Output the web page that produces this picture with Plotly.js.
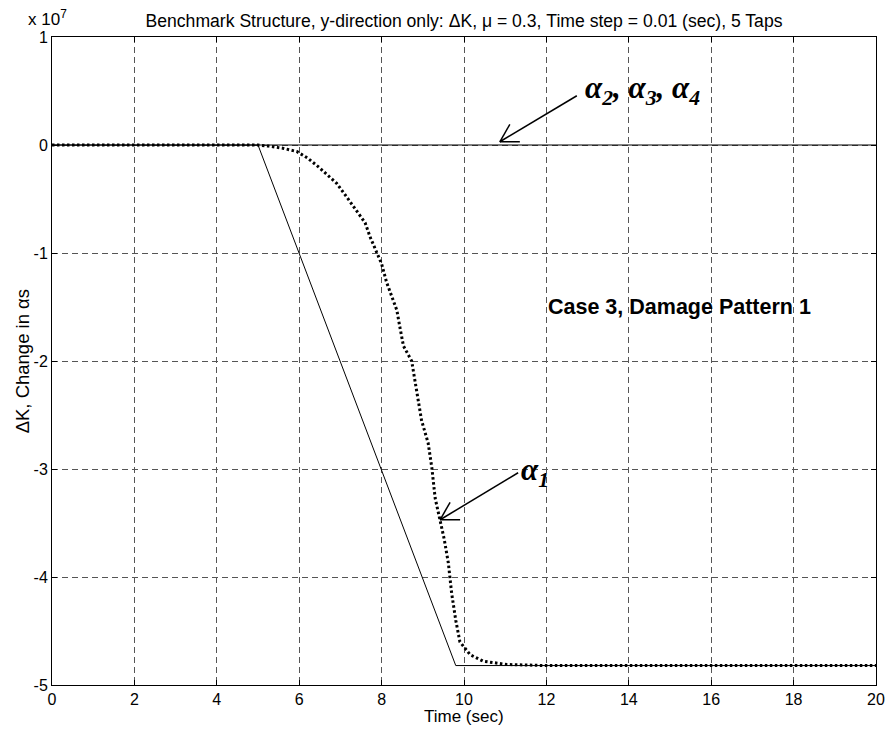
<!DOCTYPE html>
<html>
<head>
<meta charset="utf-8">
<script src="https://cdn.plot.ly/plotly-3.0.1.min.js"></script>
<style>
html,body{margin:0;padding:0;background:#fff;}
#chart{width:887px;height:729px;}
</style>
</head>
<body>
<div id="chart"></div>
<script>
// Values in units of 1e7 (axis is scaled "x 10^7")
const timeTrue = [0, 5, 9.8, 20];
const alpha1True = [0, 0, -4.82, -4.82];
const timeZero = [0, 20];
const alpha234True = [0, 0];
const timeEst = [0, 5.0, 5.25, 5.6, 5.94, 6.2, 6.46, 6.7, 6.91, 7.15, 7.44, 7.6, 7.72, 7.88, 8.0, 8.12, 8.28, 8.37, 8.45, 8.53, 8.73, 8.85, 8.97, 9.13, 9.22, 9.30, 9.42, 9.52, 9.62, 9.70, 9.80, 9.90, 10.15, 10.47, 11.04, 12, 20];
const alpha1Est = [0, 0, -0.01, -0.03, -0.06, -0.12, -0.2, -0.28, -0.355, -0.48, -0.63, -0.72, -0.85, -1.0, -1.1, -1.27, -1.44, -1.53, -1.7, -1.86, -2.0, -2.27, -2.55, -2.76, -2.99, -3.27, -3.47, -3.65, -3.87, -4.15, -4.4, -4.6, -4.72, -4.78, -4.81, -4.82, -4.82];
const xTicks = [0, 2, 4, 6, 8, 10, 12, 14, 16, 18, 20];
const yTicks = [1, 0, -1, -2, -3, -4, -5];

const sans = 'Liberation Sans, Arial, sans-serif';
const serif = 'Liberation Serif, Times New Roman, serif';

const traces = [
  {x: timeZero, y: alpha234True, mode: 'lines', line: {color: '#000', width: 1}, hoverinfo: 'skip'},
  {x: timeTrue, y: alpha1True, mode: 'lines', line: {color: '#000', width: 1}, hoverinfo: 'skip'},
  {x: timeEst, y: alpha1Est, mode: 'lines', line: {color: '#000', width: 3, dash: '2.5px,2.5px'}, hoverinfo: 'skip'}
];

function arrowShapes(x, y, tx, ty) {
  const seg = (x1, y1) => ({type: 'line', xref: 'x', yref: 'y', xsizemode: 'pixel', ysizemode: 'pixel',
    xanchor: x, yanchor: y, x0: 0, y0: 0, x1: x1, y1: y1, line: {color: '#000', width: 1.5}});
  return [seg(tx, ty), seg(20, 0), seg(10, 17.5)];
}

const shapes = [
  ...arrowShapes(10.87, 0.03, 77, 46),
  ...arrowShapes(9.42, -3.47, 78, 47)
];

const annotations = [
  {xref: 'paper', yref: 'paper', x: 0.644, y: 0.918, xanchor: 'left', yanchor: 'middle', showarrow: false,
   text: '<b><i>α<sub>2</sub>, α<sub>3</sub>, α<sub>4</sub></i></b>', font: {family: serif, size: 31, color: '#000'}},
  {xref: 'paper', yref: 'paper', x: 0.567, y: 0.329, xanchor: 'left', yanchor: 'middle', showarrow: false,
   text: '<b><i>α<sub>1</sub></i></b>', font: {family: serif, size: 31, color: '#000'}},
  {xref: 'paper', yref: 'paper', x: 0.761, y: 0.583, xanchor: 'center', yanchor: 'middle', showarrow: false,
   text: '<b>Case 3, Damage Pattern 1</b>', font: {family: sans, size: 21.5, color: '#000'}},
  {xref: 'paper', yref: 'paper', x: -0.031, y: 1.029, xanchor: 'left', yanchor: 'middle', showarrow: false,
   text: 'x 10<sup>7</sup>', font: {family: sans, size: 17, color: '#000'}},
  {xref: 'paper', yref: 'paper', x: -0.036, y: 0.5, xanchor: 'center', yanchor: 'middle', showarrow: false, textangle: -90,
   text: 'ΔK, Change in αs', font: {family: sans, size: 18.5, color: '#000'}},
  {xref: 'paper', yref: 'paper', x: 0.5, y: -0.0485, xanchor: 'center', yanchor: 'middle', showarrow: false,
   text: 'Time (sec)', font: {family: sans, size: 17, color: '#000'}}
];

const layout = {
  width: 887, height: 729,
  margin: {l: 52, r: 11, t: 37, b: 44},
  paper_bgcolor: '#fff', plot_bgcolor: '#fff',
  showlegend: false,
  title: {text: 'Benchmark Structure, y-direction only: ΔK, μ = 0.3, Time step = 0.01 (sec), 5 Taps',
          x: 0.5, xref: 'paper', xanchor: 'center', y: 0.971, yref: 'container', yanchor: 'middle',
          font: {family: sans, size: 17.6, color: '#000'}},
  xaxis: {range: [0, 20], tickvals: xTicks, ticktext: xTicks.map(String), ticks: 'inside', ticklen: 5, tickcolor: '#000',
          showline: true, linecolor: '#000', linewidth: 1, mirror: 'ticks', zeroline: false,
          showgrid: true, gridcolor: '#555', gridwidth: 1, griddash: '6px,4px',
          tickfont: {family: sans, size: 16, color: '#000'}, fixedrange: true},
  yaxis: {range: [-5, 1], tickvals: yTicks, ticktext: yTicks.map(String), ticks: 'inside', ticklen: 5, tickcolor: '#000',
          showline: true, linecolor: '#000', linewidth: 1, mirror: 'ticks', zeroline: false,
          showgrid: true, gridcolor: '#555', gridwidth: 1, griddash: '6px,4px',
          tickfont: {family: sans, size: 16, color: '#000'}, fixedrange: true},
  shapes: shapes,
  annotations: annotations
};

Plotly.newPlot('chart', traces, layout, {staticPlot: true, displayModeBar: false});
</script>
</body>
</html>
